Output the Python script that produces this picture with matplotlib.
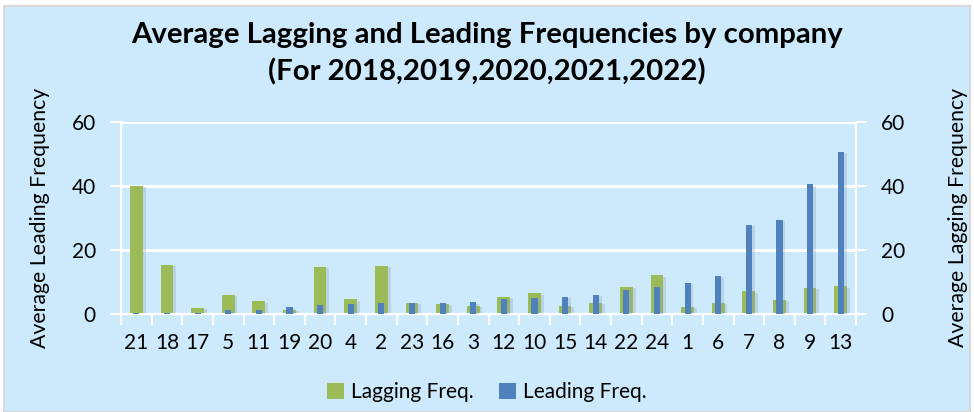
import matplotlib
matplotlib.use('Agg')
import matplotlib.pyplot as plt
import matplotlib.patheffects as pe
from matplotlib.patches import Rectangle, Patch
import numpy as np

plt.rcParams['font.family'] = ['Lato', 'DejaVu Sans']

companies = ['21', '18', '17', '5', '11', '19', '20', '4', '2', '23', '16', '3',
             '12', '10', '15', '14', '22', '24', '1', '6', '7', '8', '9', '13']
lagging = [40.0, 15.3, 1.9, 5.9, 4.0, 1.3, 14.7, 4.6, 15.0, 3.4, 3.2, 2.5,
           5.3, 6.5, 2.5, 3.4, 8.4, 12.1, 2.2, 3.4, 7.1, 4.4, 8.1, 8.7]
leading = [0.3, 0.3, 0.3, 1.3, 1.3, 2.2, 2.8, 3.2, 3.4, 3.4, 3.4, 3.7,
           4.7, 5.0, 5.3, 5.9, 7.5, 8.4, 9.7, 11.9, 27.8, 29.3, 40.5, 50.7]

bg = '#cdeafd'
green = '#9bbb59'
blue = '#4f81bd'

fig = plt.figure(figsize=(9.74, 4.12), dpi=100, facecolor='white')
# chart area with thin grey border
fig.patches.append(Rectangle((4 / 974, 0), 966 / 974, 406 / 412, transform=fig.transFigure,
                             facecolor=bg, edgecolor='#d9d9d9', linewidth=1.5, zorder=-5))

ax = fig.add_axes([121 / 974, 1 - 314 / 412, 735 / 974, 192.3 / 412])
ax.set_facecolor(bg)
ax2 = ax.twinx()
ax.set_zorder(1)
ax2.set_zorder(2)

x = np.arange(len(companies))
shadow = [pe.SimplePatchShadow(offset=(2, -1), shadow_rgbFace='#8a9db3', alpha=0.3), pe.Normal()]

ax.bar(x, lagging, width=0.42, color=green, zorder=3, path_effects=shadow)
ax2.bar(x, leading, width=0.2, color=blue, zorder=3, path_effects=shadow)

for a in (ax, ax2):
    a.set_ylim(0, 60)
    a.set_yticks([0, 20, 40, 60])
    a.set_xlim(-0.5, len(companies) - 0.5)
    for s in a.spines.values():
        s.set_color('white')
        s.set_linewidth(1.5)
    a.spines['top'].set_visible(False)
    a.tick_params(axis='y', colors='white', length=8, width=1.5, labelcolor='black',
                  labelsize=15, pad=10)

ax.yaxis.grid(True, color='white', linewidth=2.2, zorder=1)
ax.set_axisbelow(True)

ax.set_xticks(x)
ax.set_xticklabels(companies)
ax.set_xticks(np.arange(-0.5, len(companies)), minor=True)
ax.tick_params(axis='x', which='major', length=0, labelsize=15, pad=14)
ax.tick_params(axis='x', which='minor', length=8, width=1.5, color='white')

ax.set_ylabel('Average Leading Frequency', fontsize=15.3, labelpad=16)
ax2.set_ylabel('Average Lagging Frequency', fontsize=15.3, labelpad=31)

fig.text(0.5, 0.915, 'Average Lagging and Leading Frequencies by company',
         ha='center', va='center', fontsize=21.2, fontweight='bold')
fig.text(0.5, 0.825, '(For 2018,2019,2020,2021,2022)',
         ha='center', va='center', fontsize=21.2, fontweight='bold')

handles = [Patch(facecolor=green), Patch(facecolor=blue)]
fig.legend(handles, ['Lagging Freq.', 'Leading Freq.'], loc='center',
           bbox_to_anchor=(0.5, 1 - 392 / 412), ncol=2, frameon=False, fontsize=15,
           handlelength=0.8, handleheight=0.8, handletextpad=0.35, columnspacing=1.2)

fig.savefig('out.png', dpi=100, facecolor='white')
